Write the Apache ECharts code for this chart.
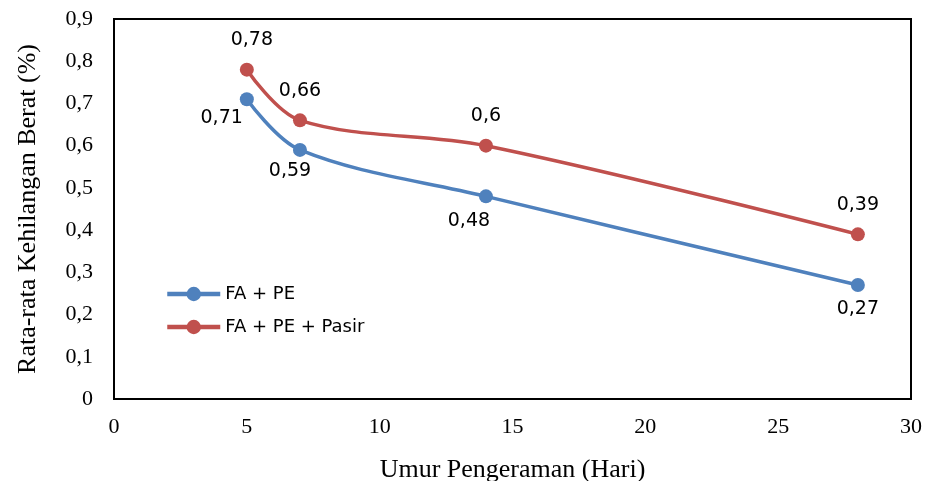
<!DOCTYPE html>
<html><head><meta charset="utf-8">
<script src="https://cdn.jsdelivr.net/npm/echarts@6/dist/echarts.min.js"></script>
<style>html,body{margin:0;padding:0;background:#fff}#c{width:925px;height:481px}</style>
</head><body><div id="c"></div>
<script>
const days = [5, 7, 14, 28];
const fape = [0.71, 0.59, 0.48, 0.27];
const fapePasir = [0.78, 0.66, 0.60, 0.39];
const seriesNames = ['FA + PE', 'FA + PE + Pasir'];

// label placement (style, kept apart from data)
const fapeLabelCfg = [
  { position: 'left', offset: [11, 19] },
  { position: 'bottom', offset: [-10, -3] },
  { position: 'bottom', offset: [-17, 0] },
  { position: 'bottom', offset: [0, 0] }
];
const pasirLabelCfg = [
  { position: 'top', offset: [5, 0] },
  { position: 'top', offset: [0, 0] },
  { position: 'top', offset: [0, 0] },
  { position: 'top', offset: [0, 0] }
];

const fmt = p => String(p.value[1]).replace('.', ',');
function build(vals, cfg) {
  return vals.map((v, i) => ({ value: [days[i], v], label: cfg[i] }));
}
const chart = echarts.init(document.getElementById('c'), null, { renderer: 'canvas' });
const serif = '"Liberation Serif", "Times New Roman", serif';
const sans = '"DejaVu Sans", sans-serif';
chart.setOption({
  animation: false,
  grid: { left: 114, right: 14, top: 19, bottom: 82, show: true, borderColor: '#000', borderWidth: 2,
    backgroundColor: 'transparent', containLabel: false, outerBoundsMode: 'none' },
  legend: {
    left: 160, top: 279, orient: 'vertical', itemGap: 13, itemWidth: 53, itemHeight: 18,
    lineStyle: { width: 4.5 },
    textStyle: { fontFamily: sans, fontSize: 18, color: '#000', lineHeight: 20 },
    data: seriesNames
  },
  xAxis: {
    type: 'value', min: 0, max: 30, interval: 5,
    name: 'Umur Pengeraman (Hari)', nameLocation: 'middle', nameGap: 58,
    nameTextStyle: { fontFamily: serif, fontSize: 26, color: '#000' },
    axisLine: { show: false }, axisTick: { show: false }, splitLine: { show: false },
    axisLabel: { fontFamily: serif, fontSize: 22, color: '#000', margin: 17 }
  },
  yAxis: {
    type: 'value', min: 0, max: 0.9, interval: 0.1,
    name: 'Rata-rata Kehilangan Berat (%)', nameLocation: 'middle', nameGap: 73,
    nameTextStyle: { fontFamily: serif, fontSize: 26, color: '#000' },
    axisLine: { show: false }, axisTick: { show: false }, splitLine: { show: false },
    axisLabel: { fontFamily: serif, fontSize: 22, color: '#000', margin: 21,
      formatter: v => (Math.round(v * 10) / 10).toString().replace('.', ',') }
  },
  series: [
    {
      name: seriesNames[0], type: 'line', smooth: 0.35, data: build(fape, fapeLabelCfg),
      color: '#4F81BD', symbol: 'circle', symbolSize: 14, lineStyle: { width: 3.5 },
      label: { show: true, formatter: fmt, fontFamily: sans, fontSize: 19, color: '#000', distance: 8 }
    },
    {
      name: seriesNames[1], type: 'line', smooth: 0.35, data: build(fapePasir, pasirLabelCfg),
      color: '#C0504D', symbol: 'circle', symbolSize: 14, lineStyle: { width: 3.5 },
      label: { show: true, formatter: fmt, fontFamily: sans, fontSize: 19, color: '#000', distance: 13 }
    }
  ]
});
</script></body></html>
